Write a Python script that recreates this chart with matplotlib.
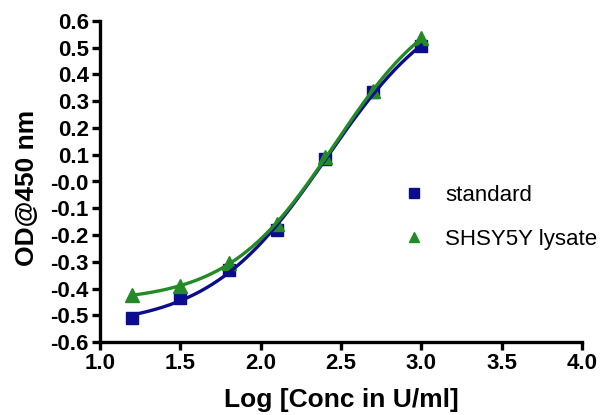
import numpy as np
import matplotlib
matplotlib.use("Agg")
import matplotlib.pyplot as plt

# data
log_conc = [1.2, 1.5, 1.8, 2.1, 2.4, 2.7, 3.0]
od_standard = [-0.51, -0.435, -0.33, -0.18, 0.083, 0.333, 0.505]
od_lysate = [-0.425, -0.39, -0.305, -0.16, 0.09, 0.34, 0.535]

y_ticks = [0.6, 0.5, 0.4, 0.3, 0.2, 0.1, 0.0, -0.1, -0.2, -0.3, -0.4, -0.5, -0.6]
y_tick_labels = ["0.6", "0.5", "0.4", "0.3", "0.2", "0.1", "-0.0", "-0.1",
                 "-0.2", "-0.3", "-0.4", "-0.5", "-0.6"]
x_ticks = [1.0, 1.5, 2.0, 2.5, 3.0, 3.5, 4.0]

blue = "#0c0c8e"
green = "#248a28"


def fit_4pl(x, y):
    # log(agonist) vs response, variable slope; grid over EC50/hill,
    # bottom and span solved by least squares
    x = np.asarray(x)
    y = np.asarray(y)
    best = None
    for ec in np.linspace(1.8, 4.5, 271):
        for hill in np.linspace(0.3, 3.0, 271):
            f = 1.0 / (1.0 + 10 ** ((ec - x) * hill))
            A = np.column_stack([np.ones_like(x), f])
            coef, *_ = np.linalg.lstsq(A, y, rcond=None)
            err = np.sum((A @ coef - y) ** 2)
            if best is None or err < best[0]:
                best = (err, ec, hill, coef)
    _, ec, hill, coef = best
    return lambda t: coef[0] + coef[1] / (1.0 + 10 ** ((ec - t) * hill))


plt.rcParams['font.family'] = ['Liberation Sans', 'DejaVu Sans']

fig = plt.figure(figsize=(6, 4.15), dpi=100)
ax = fig.add_axes([100 / 600, 1 - 342 / 415, 482 / 600, 321 / 415])

xs = np.linspace(min(log_conc), max(log_conc), 200)
fit_std = fit_4pl(log_conc, od_standard)(xs)
fit_lys = fit_4pl(log_conc, od_lysate)(xs)

ax.plot(log_conc, od_standard, linestyle='none', marker='s', markersize=9,
        color=blue, label='standard', zorder=3)
ax.plot(log_conc, od_lysate, linestyle='none', marker='^', markersize=9.5,
        color=green, label='SHSY5Y lysate', zorder=3)
ax.plot(xs, fit_std, color=blue, linewidth=2.4, zorder=4)
ax.plot(xs, fit_lys, color=green, linewidth=2.4, zorder=5)

ax.set_xlim(1.0, 4.0)
ax.set_ylim(-0.6, 0.6)
ax.set_xticks(x_ticks)
ax.set_xticklabels([f"{v:.1f}" for v in x_ticks])
ax.set_yticks(y_ticks)
ax.set_yticklabels(y_tick_labels)

for side in ['top', 'right']:
    ax.spines[side].set_visible(False)
for side in ['left', 'bottom']:
    ax.spines[side].set_linewidth(2.4)
ax.tick_params(width=2.4, length=6, pad=2, labelsize=16)
for lab in ax.get_xticklabels() + ax.get_yticklabels():
    lab.set_fontweight('bold')

ax.set_xlabel('Log [Conc in U/ml]', fontsize=19, fontweight='bold')
ax.set_ylabel('OD@450 nm', fontsize=19, fontweight='bold')
ax.xaxis.set_label_coords(0.501, -0.142)
ax.yaxis.set_label_coords(-0.127, 0.48)

ax.legend(loc='upper left', bbox_to_anchor=(0.605, 0.49), frameon=False,
          fontsize=16, borderpad=0, borderaxespad=0, handlelength=2.0,
          handletextpad=0.4, labelspacing=1.05, markerscale=0.8)

fig.savefig('out.png', dpi=100)
